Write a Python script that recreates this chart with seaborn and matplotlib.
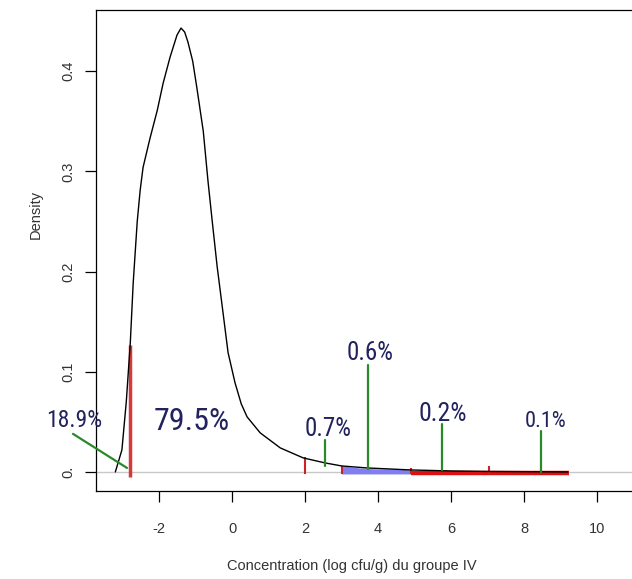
import matplotlib
matplotlib.use("Agg")
import matplotlib.pyplot as plt
import seaborn as sns
import pandas as pd

# density curve
curve_x = [-3.20, -3.02, -2.90, -2.79, -2.71, -2.60, -2.52, -2.44, -2.25, -2.05,
           -1.89, -1.70, -1.51, -1.40, -1.30, -1.21, -1.08, -0.96, -0.79, -0.66,
           -0.55, -0.41, -0.27, -0.11, 0.08, 0.25, 0.41, 0.77, 1.32, 1.95,
           2.55, 3.00, 3.70, 4.90, 6.00, 7.00, 9.20]
curve_y = [0.000, 0.022, 0.070, 0.129, 0.189, 0.250, 0.281, 0.304, 0.333, 0.361,
           0.388, 0.414, 0.436, 0.443, 0.439, 0.429, 0.410, 0.382, 0.340, 0.290,
           0.252, 0.205, 0.165, 0.119, 0.089, 0.068, 0.055, 0.039, 0.024, 0.014,
           0.009, 0.006, 0.004, 0.002, 0.001, 0.0005, 0.000]

# shaded blue interval
blue_x = [3.0, 3.5, 4.0, 4.5, 4.9]
blue_top = [0.006, 0.004, 0.003, 0.003, 0.002]

# red interval along the baseline
red_band = (4.9, 9.23)

# small red markers (x, top)
red_tick_x = [2.0, 3.0, 4.9, 7.04]
red_tick_top = [0.015, 0.006, 0.004, 0.006]

# main red line at the left
red_main_x = -2.79
red_main_top = 0.127

# green pointer lines: (x0, y0) -> (x1, y1)
green_x0 = [-4.36, 2.55, 3.73, 5.75, 8.47]
green_y0 = [0.038, 0.032, 0.107, 0.048, 0.041]
green_x1 = [-2.88, 2.55, 3.73, 5.75, 8.47]
green_y1 = [0.004, 0.006, 0.003, 0.002, 0.000]

# percentage labels
pct_labels = ["18.9%", "79.5%", "0.7%", "0.6%", "0.2%", "0.1%"]
pct_x = [-4.32, -1.11, 2.63, 3.79, 5.78, 8.58]
pct_y = [0.051, 0.050, 0.043, 0.119, 0.058, 0.050]
pct_size = [17, 23, 18, 18, 18.5, 16]

sns.set_style("ticks")
plt.rcParams["font.family"] = ["Liberation Sans", "DejaVu Sans"]

fig = plt.figure(figsize=(6.32, 5.79), dpi=100)
ax = fig.add_axes([0.1519, 0.152, 0.862, 0.8307])

ax.axhline(0, color="#c8c8c8", lw=1.0, zorder=1)

ax.fill_between(blue_x, -0.002, blue_top, color="#7f7fef", lw=0, zorder=2)
ax.plot(red_band, [-0.0012, -0.0012], color="#dd1111", lw=3.2,
        solid_capstyle="butt", zorder=3)
ax.vlines(red_tick_x, -0.002, red_tick_top, color="#cc2222", lw=1.5, zorder=3)
ax.vlines(red_main_x, -0.005, red_main_top, color="#d43a3a", lw=2.5, zorder=3)

df = pd.DataFrame({"x": curve_x, "y": curve_y})
sns.lineplot(data=df, x="x", y="y", sort=False, estimator=None,
             color="black", lw=1.0, ax=ax, zorder=4)

for x0, y0, x1, y1 in zip(green_x0, green_y0, green_x1, green_y1):
    ax.plot([x0, x1], [y0, y1], color="#2a8a2a", lw=1.6, zorder=5,
            clip_on=False)

for lab, x, y, s in zip(pct_labels, pct_x, pct_y, pct_size):
    ax.text(x, y, lab, fontsize=s, color="#22225e", ha="center", va="center",
            family=["Roboto Condensed", "Open Sans Condensed",
                    "Liberation Sans Narrow", "DejaVu Sans"],
            fontstretch="condensed", zorder=6, clip_on=False)

ax.set_xlim(-3.73, 11.2)
ax.set_ylim(-0.019, 0.461)
ax.set_xticks([-2, 0, 2, 4, 6, 8, 10])
ax.set_xticklabels(["-2", "0", "2", "4", "6", "8", "10"])
ax.set_yticks([0, 0.1, 0.2, 0.3, 0.4])
ax.set_yticklabels(["0.", "0.1", "0.2", "0.3", "0.4"], rotation=90, va="center")

for sp in ax.spines.values():
    sp.set_visible(True)
    sp.set_color("black")
    sp.set_linewidth(0.9)

ax.tick_params(axis="both", direction="out", length=8, width=0.9,
               labelsize=10.5, labelcolor="#333333", color="black")
ax.tick_params(axis="x", pad=14)
ax.tick_params(axis="y", pad=7)

ax.set_xlabel("Concentration (log cfu/g) du groupe IV", fontsize=10.5,
              color="#333333")
ax.set_ylabel("Density", fontsize=10.5, color="#333333")
ax.xaxis.set_label_coords(0.47, -0.142)
ax.yaxis.set_label_coords(-0.097, 0.574)

fig.savefig("out.png", dpi=100)
